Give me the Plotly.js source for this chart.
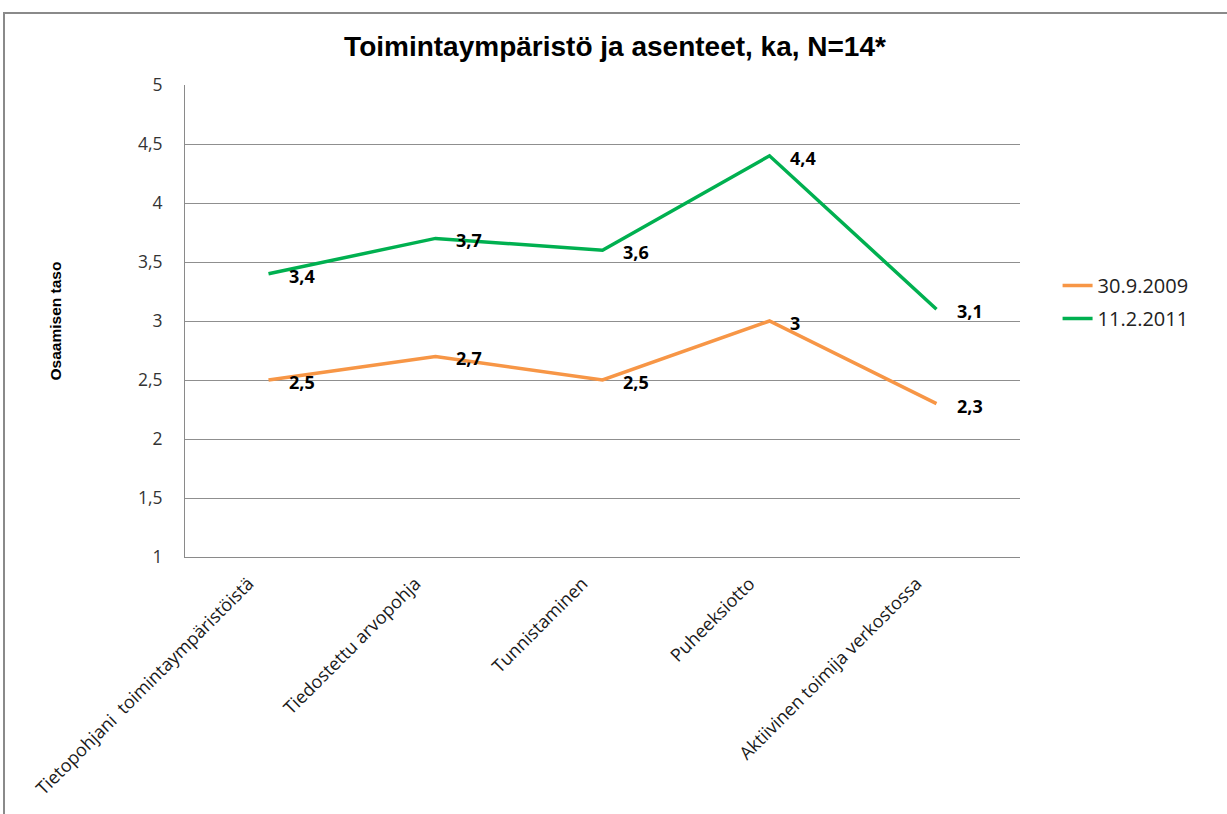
<!DOCTYPE html>
<html>
<head>
<meta charset="utf-8">
<script src="https://cdn.plot.ly/plotly-3.0.1.min.js"></script>
<style>
  html, body { margin: 0; padding: 0; background: #fff; }
  #wrap { position: relative; width: 1227px; height: 814px; overflow: hidden; }
  #chart { position: absolute; left: 0; top: 0; width: 1227px; height: 814px; }
  #frame { position: absolute; left: 3px; top: 12px; width: 1230px; height: 810px;
           border-left: 2px solid #8a8a8a; border-top: 2px solid #8a8a8a; pointer-events: none; }
</style>
</head>
<body>
<div id="wrap">
  <div id="chart"></div>
  <div id="frame"></div>
</div>
<script>
const categories = [
  "Tietopohjani  toimintaympäristöistä",
  "Tiedostettu arvopohja",
  "Tunnistaminen",
  "Puheeksiotto",
  "Aktiivinen toimija verkostossa"
];
const series2009 = [2.5, 2.7, 2.5, 3, 2.3];
const series2011 = [3.4, 3.7, 3.6, 4.4, 3.1];
const seriesNames = ["30.9.2009", "11.2.2011"];
const yTicks = [1, 1.5, 2, 2.5, 3, 3.5, 4, 4.5, 5];
const yTickLabels = ["1", "1,5", "2", "2,5", "3", "3,5", "4", "4,5", "5"];

const fmt = v => String(v).replace(".", ",");
const labelFont = { family: "Open Sans, DejaVu Sans, sans-serif", size: 18, color: "#000", weight: 700 };

function labels(vals) {
  return vals.map((v, i) => ({
    x: categories[i], y: v, xref: "x", yref: "y",
    text: "<b>" + fmt(v) + "</b>", showarrow: false,
    xanchor: "left", yanchor: "middle", xshift: 18, yshift: -2,
    font: labelFont
  }));
}

const traces = [
  { x: categories, y: series2009, name: seriesNames[0], type: "scatter", mode: "lines",
    legendgroup: "a", line: { color: "#F79646", width: 3.5 } },
  { x: categories, y: series2011, name: seriesNames[1], type: "scatter", mode: "lines",
    legendgroup: "b", line: { color: "#00B050", width: 3.5 } }
];

const layout = {
  width: 1227, height: 814,
  paper_bgcolor: "rgba(0,0,0,0)", plot_bgcolor: "#fff",
  margin: { l: 185, r: 207, t: 85, b: 257 },
  title: { text: "<b>Toimintaympäristö ja asenteet, ka, N=14*</b>",
           font: { family: "Liberation Sans Narrow, Liberation Sans, sans-serif", size: 28, color: "#000" },
           x: 0.515, xref: "paper", xanchor: "center", y: 0.943, yref: "container", yanchor: "middle" },
  xaxis: {
    type: "category", tickangle: -45, showgrid: false,
    showline: true, linecolor: "#8a8a8a", linewidth: 1,
    ticks: "", ticklabelshift: -20, ticklabelstandoff: 8,
    tickfont: { family: "Open Sans, sans-serif", size: 18, color: "#1a1a1a" },
    range: [-0.5, 4.5], fixedrange: true
  },
  yaxis: {
    range: [1, 5], tickvals: yTicks, ticktext: yTickLabels,
    showgrid: true, gridcolor: "#8f8f8f", gridwidth: 1,
    showline: true, linecolor: "#8a8a8a", linewidth: 1,
    ticks: "", ticklabelstandoff: 18,
    tickfont: { family: "Open Sans, sans-serif", size: 17.5, color: "#333" },
    title: { text: "<b>Osaamisen taso</b>", standoff: 72,
             font: { family: "Liberation Sans Narrow, Liberation Sans, sans-serif", size: 15.5, color: "#000" } },
    zeroline: false
  },
  showlegend: true,
  legend: {
    x: 1.045, xanchor: "left", y: 0.54, yanchor: "middle",
    font: { family: "Open Sans, sans-serif", size: 20, color: "#222" },
    bgcolor: "rgba(0,0,0,0)", tracegroupgap: 4
  },
  annotations: labels(series2009).concat(labels(series2011))
};

Plotly.newPlot("chart", traces, layout, { displayModeBar: false, staticPlot: true });
</script>
</body>
</html>
